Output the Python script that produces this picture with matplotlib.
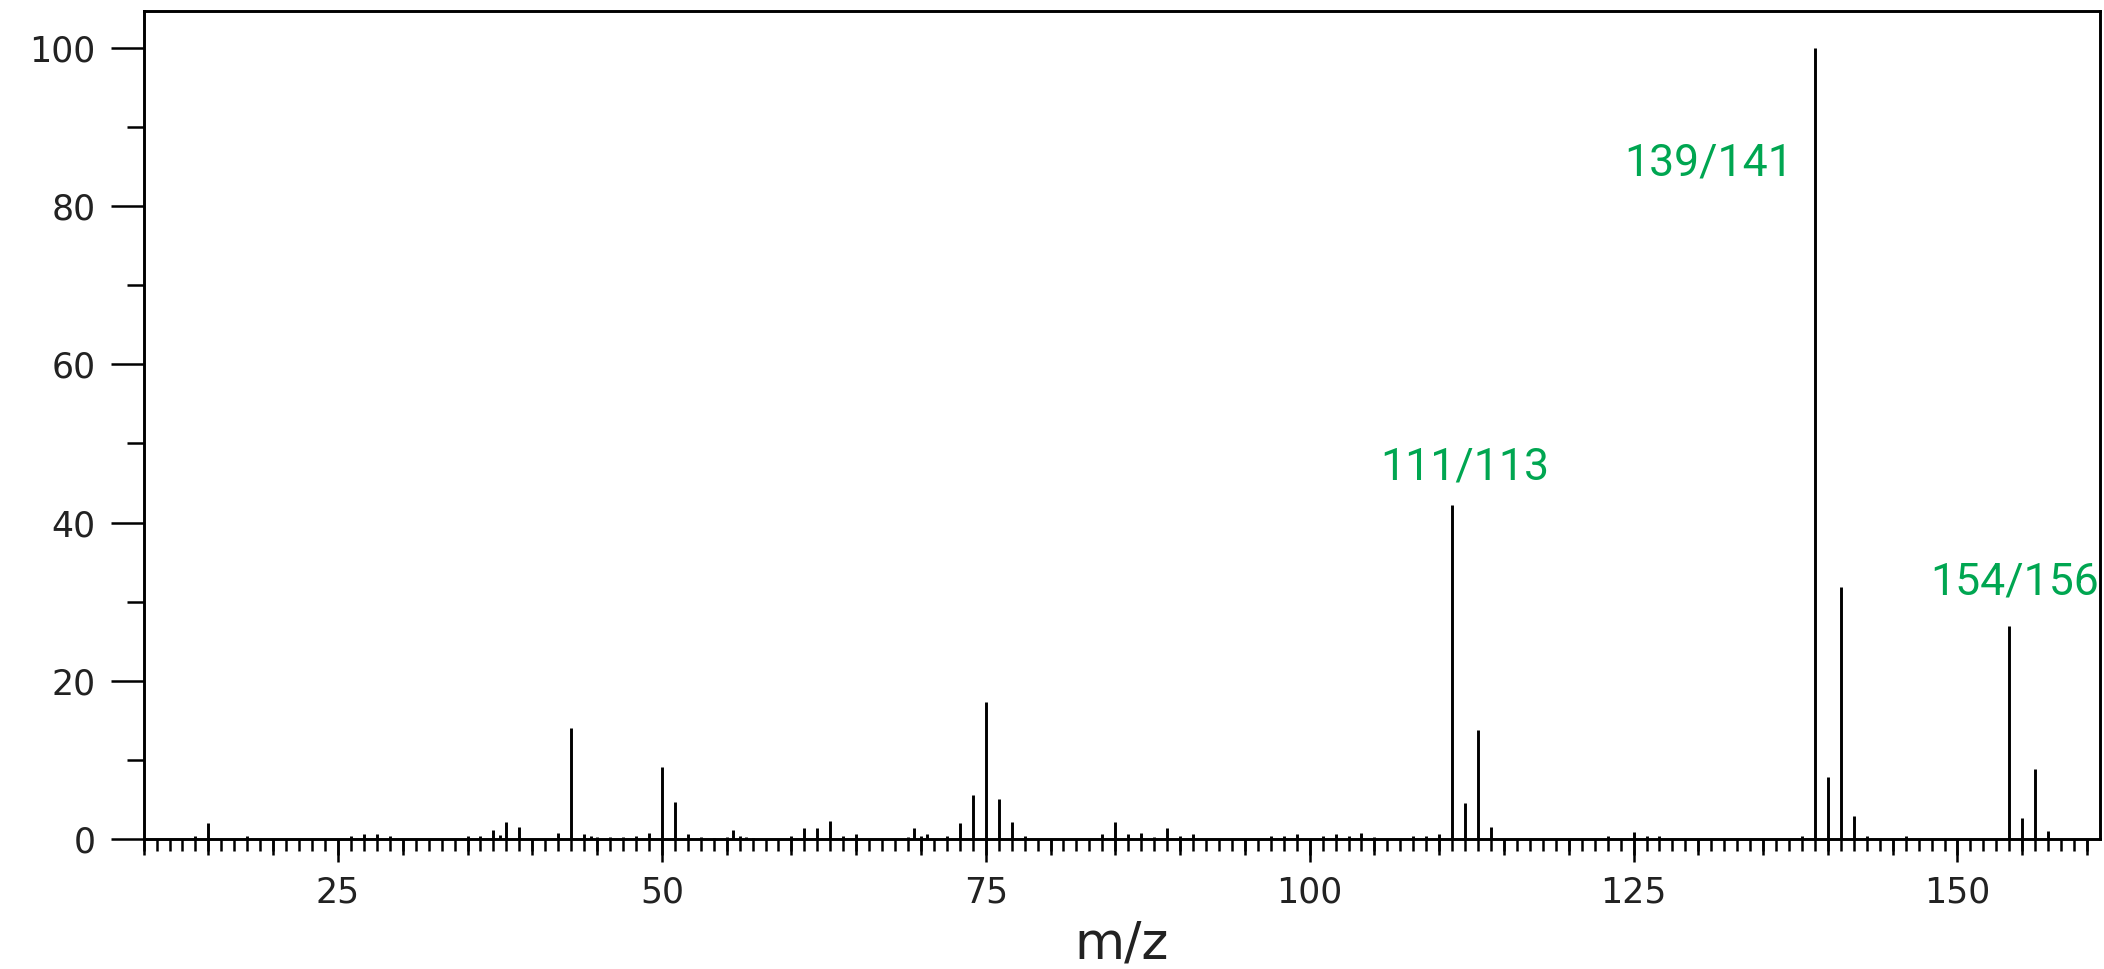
import matplotlib.pyplot as plt
from matplotlib.ticker import FixedLocator, MultipleLocator

# EI mass spectrum, relative abundance (base peak = 100)
mz = [14, 15, 18, 26, 27, 28, 29, 35, 36, 37, 37.5, 38, 39, 42, 43, 44, 44.5,
      45, 46, 47, 48, 49, 50, 51, 52, 53, 54, 55, 55.5, 56, 56.5, 57, 60, 61,
      62, 63, 64, 65, 69, 69.5, 70, 70.5, 72, 73, 74, 75, 76, 77, 78, 84, 85,
      86, 87, 88, 89, 90, 91, 97, 98, 99, 101, 102, 103, 104, 105, 108, 109,
      110, 111, 112, 113, 114, 123, 125, 126, 127, 138, 139, 140, 141, 142,
      143, 146, 154, 155, 156, 157]
abundance = [0.4, 2.0, 0.4, 0.4, 0.6, 0.6, 0.4, 0.4, 0.4, 1.2, 0.5, 2.2, 1.5,
             0.8, 14.0, 0.6, 0.4, 0.3, 0.3, 0.3, 0.4, 0.8, 9.1, 4.7, 0.6, 0.3,
             0.1, 0.3, 1.1, 0.4, 0.3, 0.1, 0.4, 1.4, 1.4, 2.3, 0.4, 0.6, 0.2,
             1.4, 0.4, 0.6, 0.4, 2.0, 5.6, 17.3, 5.0, 2.2, 0.4, 0.6, 2.2, 0.6,
             0.8, 0.2, 1.4, 0.4, 0.6, 0.4, 0.4, 0.6, 0.4, 0.6, 0.4, 0.8, 0.3,
             0.4, 0.4, 0.6, 42.2, 4.5, 13.8, 1.5, 0.4, 0.9, 0.4, 0.4, 0.4,
             100.0, 7.8, 31.8, 2.9, 0.4, 0.4, 26.9, 2.6, 8.9, 1.0]

# isotope-pair annotations, anchored on the lighter (35Cl) peak
pair_labels = ["111/113", "139/141", "154/156"]
pair_mz = [111, 139, 154]

GREEN = "#00a651"
LW = 2.1
TW = 1.8

fig = plt.figure(figsize=(21.04, 9.69), dpi=100)
ax = fig.add_axes([0.06825, 0.13416, 0.92985, 0.8548])

ax.vlines(mz, 0, abundance, colors="black", lw=LW)

ax.set_xlim(10, 161.0)
ax.set_ylim(0, 104.7)

for side in ["left", "bottom", "top", "right"]:
    ax.spines[side].set_linewidth(LW)
    ax.spines[side].set_color("black")

# x: unit ticks, labelled every 25; y: labelled every 20, short every 10
ax.xaxis.set_major_locator(MultipleLocator(25))
ax.xaxis.set_minor_locator(FixedLocator(range(10, 161)))
ax.yaxis.set_major_locator(MultipleLocator(20))
ax.yaxis.set_minor_locator(FixedLocator(range(10, 100, 20)))

ax.tick_params(axis="x", which="major", direction="out", length=16.5, width=TW,
               pad=10, labelsize=25, labelcolor="#222222")
ax.tick_params(axis="x", which="minor", direction="out", length=8.6, width=TW)
ax.tick_params(axis="y", which="major", direction="out", length=23.8, width=TW,
               pad=11, labelsize=25, labelcolor="#222222")
ax.tick_params(axis="y", which="minor", direction="out", length=12.2, width=TW)

# medium ticks every 5 m/z
sec = ax.secondary_xaxis("bottom")
sec.set_xticks(range(10, 161, 5))
sec.tick_params(direction="out", length=11.5, width=TW, labelbottom=False)
sec.spines["bottom"].set_visible(False)

ax.set_xlabel("m/z", fontsize=37, color="#222222", labelpad=7)

peak_height = dict(zip(mz, abundance))
ax.annotate(pair_labels[0], xy=(pair_mz[0], peak_height[pair_mz[0]]),
            xytext=(9, 12), textcoords="offset points", ha="center", va="bottom",
            fontsize=32, color=GREEN, family="Roboto")
ax.annotate(pair_labels[1], xy=(pair_mz[1], peak_height[pair_mz[1]]),
            xytext=(-16, -83.5), textcoords="offset points", ha="right",
            va="center", fontsize=32, color=GREEN, family="Roboto")
ax.annotate(pair_labels[2], xy=(pair_mz[2], peak_height[pair_mz[2]]),
            xytext=(4, 16), textcoords="offset points", ha="center", va="bottom",
            fontsize=32, color=GREEN, family="Roboto")

fig.savefig("out.png", dpi=100)
